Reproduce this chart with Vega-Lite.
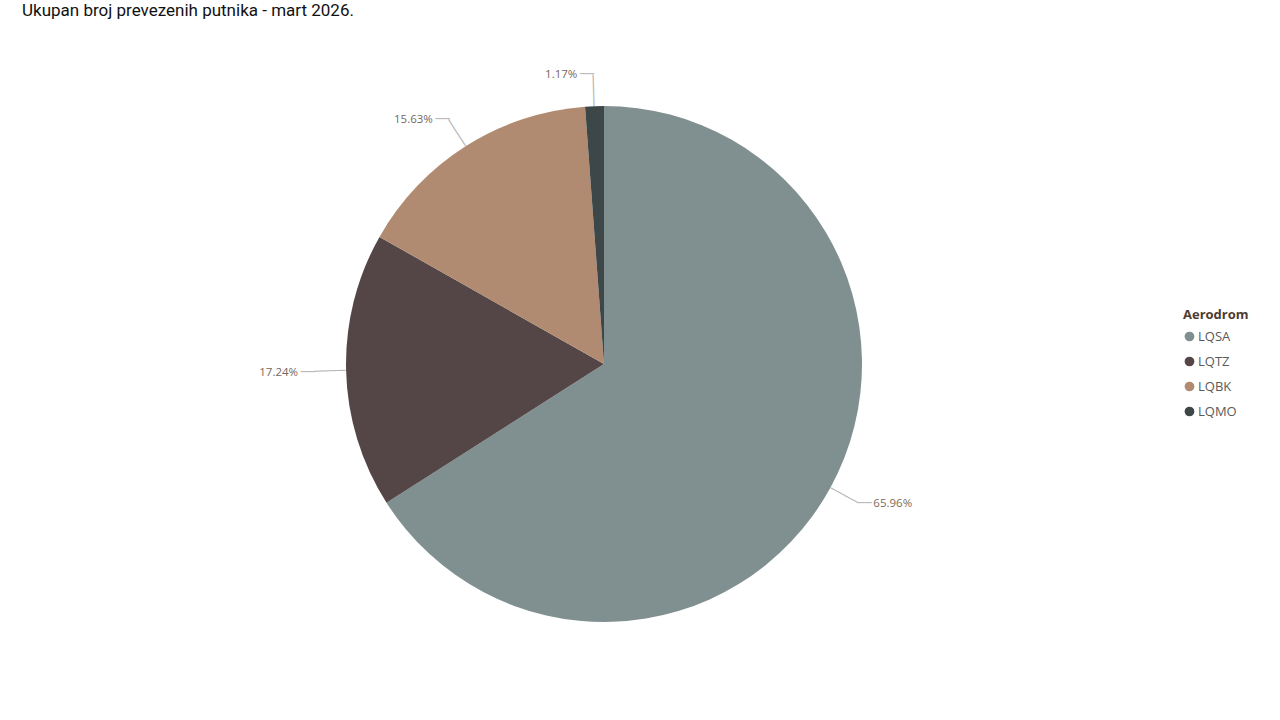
{
  "$schema": "https://vega.github.io/schema/vega-lite/v6.json",
  "width": 1208,
  "height": 648,
  "autosize": {"type": "none"},
  "padding": {"left": 0, "top": 40, "right": 72, "bottom": 32},
  "background": "white",
  "config": {"view": {"stroke": null}},
  "title": {
    "text": "Ukupan broj prevezenih putnika - mart 2026.",
    "anchor": "start",
    "frame": "group",
    "dx": 22,
    "offset": 20,
    "font": "Roboto",
    "fontSize": 17,
    "fontWeight": "normal",
    "color": "#111111"
  },
  "data": {
    "values": [
      {"Aerodrom": "LQSA", "udio": 0.6596, "rank": 1},
      {"Aerodrom": "LQTZ", "udio": 0.1724, "rank": 2},
      {"Aerodrom": "LQBK", "udio": 0.1563, "rank": 3},
      {"Aerodrom": "LQMO", "udio": 0.0117, "rank": 4}
    ]
  },
  "encoding": {
    "theta": {"field": "udio", "type": "quantitative", "stack": true},
    "order": {"field": "rank", "type": "quantitative"}
  },
  "layer": [
    {
      "mark": {"type": "arc", "outerRadius": 258},
      "encoding": {
        "color": {
          "field": "Aerodrom",
          "type": "nominal",
          "sort": ["LQSA", "LQTZ", "LQBK", "LQMO"],
          "scale": {"domain": ["LQSA", "LQTZ", "LQBK", "LQMO"], "range": ["#808F90", "#544646", "#B08B71", "#3D4748"]},
          "legend": {
            "orient": "none",
            "legendX": 1183,
            "legendY": 269,
            "title": "Aerodrom",
            "titleFont": "Open Sans",
            "titleFontSize": 13,
            "titleFontWeight": "bold",
            "titleColor": "#4E3B30",
            "titlePadding": 8,
            "labelFont": "Open Sans",
            "labelFontSize": 13,
            "labelColor": "#5A5A5A",
            "labelOffset": 2,
            "symbolType": "circle",
            "symbolSize": 95,
            "symbolStrokeWidth": 0,
            "rowPadding": 11
          }
        }
      }
    },
    {
      "mark": {"type": "text", "radius": 274, "align": "center", "baseline": "middle", "angle": 28.7, "font": "DejaVu Sans Mono", "fontSize": 13, "color": "#B5B5B5"},
      "encoding": {
        "detail": {"field": "Aerodrom"},
        "text": {"condition": {"test": "datum.Aerodrom === 'LQSA'", "value": "────"}, "value": ""}
      }
    },
    {
      "mark": {"type": "text", "radius": 274, "align": "center", "baseline": "middle", "angle": 358.5, "font": "DejaVu Sans Mono", "fontSize": 13, "color": "#B5B5B5"},
      "encoding": {
        "detail": {"field": "Aerodrom"},
        "text": {"condition": {"test": "datum.Aerodrom === 'LQTZ'", "value": "────"}, "value": ""}
      }
    },
    {
      "mark": {"type": "text", "radius": 274, "align": "center", "baseline": "middle", "angle": 237.7, "font": "DejaVu Sans Mono", "fontSize": 13, "color": "#B5B5B5"},
      "encoding": {
        "detail": {"field": "Aerodrom"},
        "text": {"condition": {"test": "datum.Aerodrom === 'LQBK'", "value": "────"}, "value": ""}
      }
    },
    {
      "mark": {"type": "text", "radius": 274, "align": "center", "baseline": "middle", "angle": 267.9, "font": "DejaVu Sans Mono", "fontSize": 13, "color": "#B5B5B5"},
      "encoding": {
        "detail": {"field": "Aerodrom"},
        "text": {"condition": {"test": "datum.Aerodrom === 'LQMO'", "value": "────"}, "value": ""}
      }
    },
    {
      "mark": {"type": "text", "radius": 290, "align": "right", "baseline": "middle", "dx": -16, "dy": 1, "font": "Open Sans", "fontSize": 11.5, "color": "#74695F"},
      "encoding": {
        "detail": {"field": "Aerodrom"},
        "text": {"condition": {"test": "datum.Aerodrom !== 'LQSA'", "field": "udio", "type": "quantitative", "format": ".2%"}, "value": ""}
      }
    },
    {
      "mark": {"type": "text", "radius": 290, "align": "left", "baseline": "middle", "dx": 15, "dy": 1, "font": "Open Sans", "fontSize": 11.5, "color": "#7E6A5A"},
      "encoding": {
        "detail": {"field": "Aerodrom"},
        "text": {"condition": {"test": "datum.Aerodrom === 'LQSA'", "field": "udio", "type": "quantitative", "format": ".2%"}, "value": ""}
      }
    },
    {
      "mark": {"type": "text", "radius": 290, "align": "right", "baseline": "middle", "dx": 1, "font": "DejaVu Sans Mono", "fontSize": 12, "color": "#B5B5B5"},
      "encoding": {
        "detail": {"field": "Aerodrom"},
        "text": {"condition": {"test": "datum.Aerodrom !== 'LQSA'", "value": "──"}, "value": ""}
      }
    },
    {
      "mark": {"type": "text", "radius": 290, "align": "left", "baseline": "middle", "dx": -1, "font": "DejaVu Sans Mono", "fontSize": 12, "color": "#B5B5B5"},
      "encoding": {
        "detail": {"field": "Aerodrom"},
        "text": {"condition": {"test": "datum.Aerodrom === 'LQSA'", "value": "──"}, "value": ""}
      }
    }
  ]
}
